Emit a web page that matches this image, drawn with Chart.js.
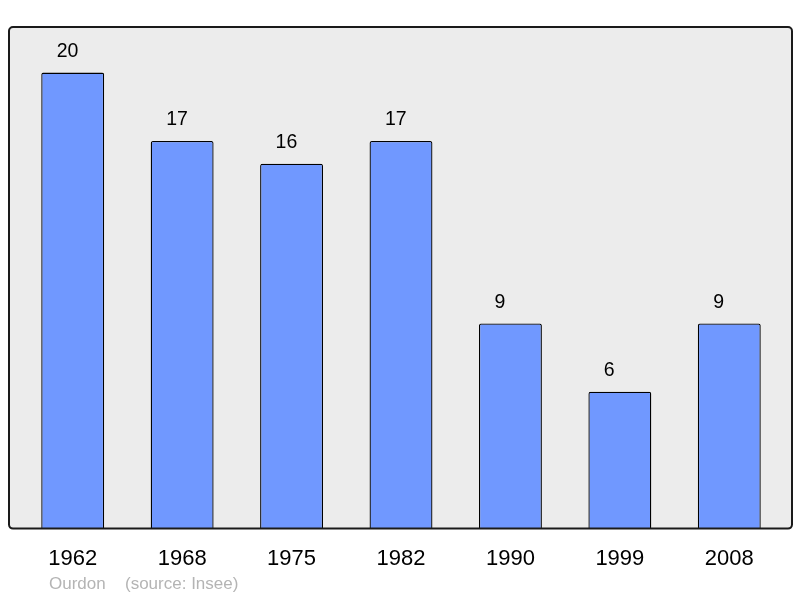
<!DOCTYPE html>
<html>
<head>
<meta charset="utf-8">
<script src="https://cdn.jsdelivr.net/npm/chart.js@4/dist/chart.umd.min.js"></script>
<style>
html,body{margin:0;padding:0;background:#fff;}
#wrap{width:800px;height:598px;}
</style>
</head>
<body>
<div id="wrap"><canvas id="c" width="800" height="598"></canvas></div>
<script>
const categories = ["1962","1968","1975","1982","1990","1999","2008"];
const populations = [20,17,16,17,9,6,9];
const placeName = "Ourdon";
const sourceText = "(source: Insee)";

const framePlugin = {
  id: 'frame',
  beforeDraw(chart) {
    const {ctx, chartArea:a} = chart;
    ctx.save();
    ctx.beginPath();
    ctx.roundRect(a.left-9, a.top, a.right-a.left+17, a.bottom-a.top, 4);
    ctx.fillStyle = '#ececec';
    ctx.fill();
    ctx.restore();
  },
  afterDatasetsDraw(chart) {
    const {ctx, chartArea:a} = chart;
    ctx.save();
    ctx.beginPath();
    ctx.roundRect(a.left-9, a.top, a.right-a.left+17, a.bottom-a.top, 4);
    ctx.lineWidth = 2;
    ctx.strokeStyle = '#1a1a1a';
    ctx.stroke();
    // value labels
    const meta = chart.getDatasetMeta(0);
    ctx.fillStyle = '#000';
    ctx.font = '19.5px "Liberation Sans", Arial, sans-serif';
    ctx.textAlign = 'left';
    ctx.textBaseline = 'middle';
    meta.data.forEach((bar, i) => {
      ctx.fillText(String(chart.data.datasets[0].data[i]), bar.x - 16, bar.y - 21);
    });
    // source
    ctx.fillStyle = '#b4b4b4';
    ctx.font = '17px "Liberation Sans", Arial, sans-serif';
    ctx.fillText(placeName, 49, 584);
    ctx.fillText(sourceText, 125, 584);
    ctx.restore();
  }
};

new Chart(document.getElementById('c'), {
  type: 'bar',
  data: {
    labels: categories,
    datasets: [{
      data: populations,
      backgroundColor: '#7098ff',
      borderColor: '#000',
      borderWidth: 1.3,
      borderRadius: 2,
      borderSkipped: 'bottom',
      barPercentage: 0.575,
      categoryPercentage: 1.0
    }]
  },
  plugins: [framePlugin],
  options: {
    responsive: false,
    animation: false,
    events: [],
    layout: { padding: { left: 18, right: 16, top: 27, bottom: 9 } },
    plugins: { legend: { display: false }, tooltip: { enabled: false }, title: { display: false } },
    scales: {
      x: {
        grid: { display: false, drawTicks: false },
        border: { display: false },
        ticks: { color: '#000', font: { size: 22, family: '"Liberation Sans", Arial, sans-serif' }, padding: 17, maxRotation: 0 }
      },
      y: {
        display: false,
        min: 0,
        max: 22,
        grid: { display: false }
      }
    }
  }
});
</script>
</body>
</html>
